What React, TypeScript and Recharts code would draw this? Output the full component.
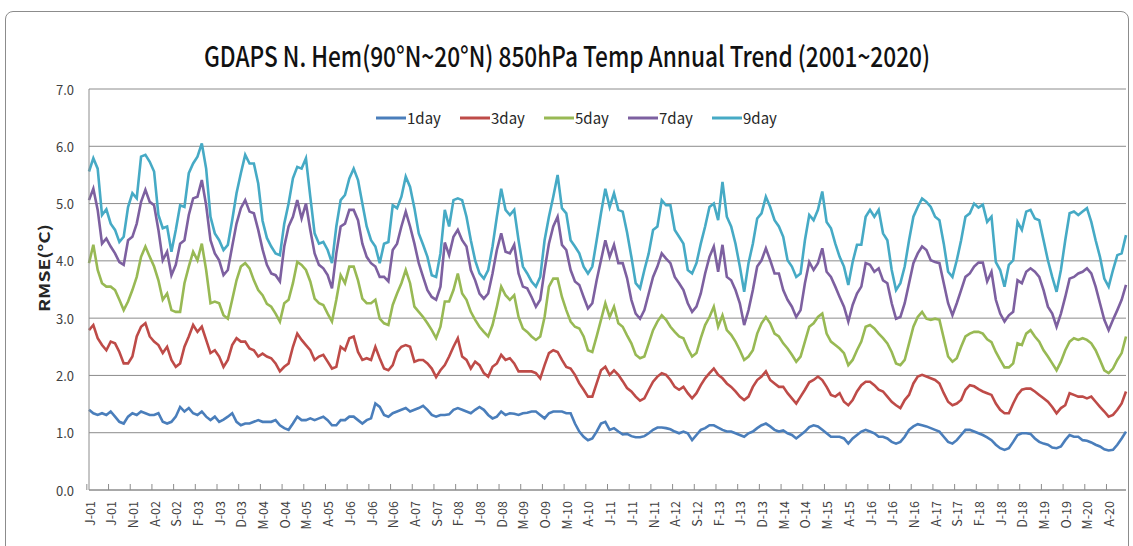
import { LineChart, Line, XAxis, YAxis, CartesianGrid, Legend } from 'recharts';

const MONTH_INITIALS = ['J', 'F', 'M', 'A', 'M', 'J', 'J', 'A', 'S', 'O', 'N', 'D'];
const YEARS = ['01', '02', '03', '04', '05', '06', '07', '08', '09', '10', '11', '12', '13', '14', '15', '16', '17', '18', '19', '20'];

const SERIES_NAMES = ['1day', '3day', '5day', '7day', '9day'];
const SERIES_COLORS = ['#4a7ebb', '#be4b48', '#98b954', '#7d60a0', '#46aac5'];

// monthly RMSE, Jan 2001 .. Dec 2020, one row per year
const RMSE_1DAY = [
  1.40, 1.34, 1.31, 1.34, 1.31, 1.37, 1.28, 1.19, 1.16, 1.28, 1.34, 1.31,
  1.37, 1.34, 1.31, 1.31, 1.34, 1.19, 1.16, 1.19, 1.28, 1.45, 1.37, 1.43,
  1.34, 1.31, 1.37, 1.28, 1.22, 1.28, 1.19, 1.23, 1.28, 1.34, 1.19, 1.13,
  1.16, 1.16, 1.19, 1.22, 1.19, 1.19, 1.19, 1.22, 1.13, 1.08, 1.05, 1.16,
  1.28, 1.22, 1.22, 1.25, 1.22, 1.25, 1.28, 1.22, 1.13, 1.13, 1.22, 1.22,
  1.28, 1.28, 1.22, 1.16, 1.22, 1.25, 1.51, 1.45, 1.31, 1.28, 1.34, 1.37,
  1.40, 1.43, 1.37, 1.40, 1.43, 1.47, 1.40, 1.31, 1.28, 1.31, 1.31, 1.32,
  1.40, 1.43, 1.40, 1.37, 1.34, 1.40, 1.45, 1.40, 1.31, 1.25, 1.28, 1.37,
  1.31, 1.34, 1.33, 1.31, 1.34, 1.35, 1.37, 1.37, 1.31, 1.25, 1.34, 1.37,
  1.37, 1.37, 1.34, 1.34, 1.16, 1.02, 0.93, 0.87, 0.90, 1.02, 1.16, 1.19,
  1.05, 1.08, 1.02, 0.97, 0.98, 0.94, 0.92, 0.92, 0.94, 0.99, 1.05, 1.09,
  1.09, 1.08, 1.06, 1.02, 0.99, 1.02, 0.99, 0.87, 0.96, 1.05, 1.08, 1.13,
  1.13, 1.09, 1.05, 1.02, 1.02, 0.99, 0.96, 0.93, 0.99, 1.02, 1.08, 1.13,
  1.16, 1.11, 1.05, 1.02, 1.04, 0.99, 0.96, 0.90, 0.96, 1.02, 1.10, 1.13,
  1.11, 1.05, 0.99, 0.93, 0.93, 0.93, 0.90, 0.81, 0.90, 0.96, 1.02, 1.05,
  1.02, 0.99, 0.93, 0.93, 0.90, 0.84, 0.81, 0.84, 0.93, 1.05, 1.11, 1.15,
  1.13, 1.11, 1.08, 1.05, 1.02, 0.93, 0.84, 0.81, 0.87, 0.96, 1.05, 1.05,
  1.02, 0.99, 0.96, 0.92, 0.87, 0.79, 0.73, 0.70, 0.73, 0.84, 0.96, 0.99,
  0.99, 0.98, 0.90, 0.84, 0.81, 0.79, 0.74, 0.73, 0.76, 0.87, 0.96, 0.93,
  0.93, 0.87, 0.86, 0.83, 0.79, 0.76, 0.71, 0.69, 0.70, 0.79, 0.90, 1.02,
];

const RMSE_3DAY = [
  2.79, 2.88, 2.65, 2.53, 2.44, 2.59, 2.56, 2.41, 2.21, 2.21, 2.33, 2.68,
  2.85, 2.91, 2.68, 2.59, 2.53, 2.39, 2.50, 2.27, 2.15, 2.21, 2.50, 2.68,
  2.88, 2.76, 2.85, 2.62, 2.39, 2.44, 2.33, 2.15, 2.27, 2.53, 2.65, 2.59,
  2.59, 2.47, 2.44, 2.33, 2.38, 2.33, 2.30, 2.21, 2.07, 2.15, 2.21, 2.50,
  2.73, 2.62, 2.53, 2.44, 2.27, 2.33, 2.36, 2.24, 2.12, 2.15, 2.50, 2.44,
  2.65, 2.68, 2.41, 2.27, 2.30, 2.27, 2.50, 2.30, 2.12, 2.09, 2.18, 2.41,
  2.50, 2.53, 2.50, 2.24, 2.27, 2.27, 2.21, 2.12, 1.97, 2.09, 2.18, 2.33,
  2.50, 2.65, 2.33, 2.27, 2.12, 2.24, 2.18, 2.04, 1.98, 2.15, 2.21, 2.36,
  2.27, 2.30, 2.21, 2.07, 2.07, 2.07, 2.07, 2.04, 1.95, 2.18, 2.39, 2.44,
  2.41, 2.27, 2.15, 2.12, 2.01, 1.86, 1.75, 1.63, 1.63, 1.86, 2.09, 2.15,
  2.01, 2.09, 2.01, 1.90, 1.78, 1.72, 1.63, 1.56, 1.60, 1.75, 1.89, 1.98,
  2.04, 2.01, 1.92, 1.80, 1.75, 1.80, 1.69, 1.60, 1.69, 1.83, 1.95, 2.04,
  2.12, 2.01, 1.95, 1.86, 1.80, 1.72, 1.63, 1.57, 1.63, 1.80, 1.92, 1.98,
  2.07, 1.92, 1.86, 1.80, 1.80, 1.69, 1.60, 1.51, 1.63, 1.75, 1.88, 1.92,
  1.98, 1.92, 1.80, 1.66, 1.63, 1.69, 1.54, 1.48, 1.57, 1.72, 1.83, 1.89,
  1.89, 1.83, 1.75, 1.72, 1.63, 1.54, 1.48, 1.43, 1.57, 1.66, 1.86, 1.98,
  2.01, 1.98, 1.95, 1.92, 1.86, 1.69, 1.54, 1.48, 1.51, 1.57, 1.75, 1.83,
  1.81, 1.76, 1.72, 1.69, 1.66, 1.51, 1.40, 1.34, 1.34, 1.51, 1.66, 1.75,
  1.77, 1.77, 1.72, 1.66, 1.60, 1.54, 1.45, 1.34, 1.43, 1.48, 1.69, 1.66,
  1.63, 1.63, 1.60, 1.63, 1.54, 1.45, 1.37, 1.28, 1.31, 1.40, 1.51, 1.72,
];

const RMSE_5DAY = [
  3.96, 4.28, 3.84, 3.61, 3.55, 3.55, 3.49, 3.32, 3.14, 3.29, 3.49, 3.72,
  4.07, 4.25, 4.07, 3.90, 3.66, 3.32, 3.43, 3.14, 3.11, 3.11, 3.61, 3.90,
  4.16, 4.01, 4.30, 3.84, 3.26, 3.29, 3.26, 3.05, 2.99, 3.32, 3.66, 3.90,
  3.96, 3.87, 3.66, 3.49, 3.40, 3.25, 3.20, 3.08, 2.94, 3.26, 3.32, 3.61,
  3.98, 3.93, 3.84, 3.64, 3.34, 3.26, 3.23, 3.08, 2.94, 3.32, 3.75, 3.61,
  3.90, 3.90, 3.66, 3.34, 3.26, 3.26, 3.32, 2.99, 2.91, 2.88, 3.23, 3.43,
  3.61, 3.84, 3.61, 3.20, 3.11, 3.02, 2.91, 2.79, 2.65, 2.85, 3.29, 3.29,
  3.49, 3.78, 3.43, 3.32, 3.11, 2.97, 2.85, 2.76, 2.68, 2.88, 3.20, 3.55,
  3.40, 3.32, 3.40, 3.02, 2.82, 2.76, 2.68, 2.62, 2.68, 3.02, 3.55, 3.69,
  3.69, 3.37, 3.14, 2.94, 2.85, 2.82, 2.68, 2.44, 2.41, 2.68, 2.97, 3.26,
  3.02, 3.20, 2.91, 2.85, 2.70, 2.56, 2.36, 2.30, 2.33, 2.56, 2.79, 2.94,
  3.05, 2.97, 2.85, 2.76, 2.68, 2.65, 2.47, 2.33, 2.39, 2.65, 2.88, 3.02,
  3.20, 2.85, 3.05, 2.79, 2.71, 2.59, 2.44, 2.27, 2.33, 2.44, 2.73, 2.91,
  3.02, 2.91, 2.73, 2.68, 2.56, 2.47, 2.36, 2.24, 2.33, 2.59, 2.85, 2.91,
  3.02, 3.08, 2.73, 2.59, 2.53, 2.47, 2.39, 2.18, 2.27, 2.44, 2.59, 2.85,
  2.88, 2.82, 2.73, 2.65, 2.56, 2.41, 2.21, 2.18, 2.27, 2.56, 2.85, 3.02,
  3.11, 2.99, 2.97, 2.99, 2.97, 2.65, 2.33, 2.24, 2.30, 2.50, 2.68, 2.73,
  2.76, 2.76, 2.73, 2.63, 2.58, 2.41, 2.27, 2.14, 2.14, 2.21, 2.56, 2.53,
  2.73, 2.79, 2.68, 2.59, 2.44, 2.33, 2.21, 2.09, 2.24, 2.44, 2.59, 2.65,
  2.62, 2.65, 2.62, 2.56, 2.44, 2.27, 2.09, 2.04, 2.12, 2.27, 2.39, 2.68,
];

const RMSE_7DAY = [
  5.06, 5.26, 4.89, 4.30, 4.39, 4.25, 4.13, 3.98, 3.93, 4.36, 4.42, 4.65,
  5.03, 5.24, 5.03, 4.97, 4.54, 4.01, 4.16, 3.75, 3.93, 4.30, 4.36, 4.80,
  5.09, 5.12, 5.41, 4.97, 4.36, 4.13, 4.01, 3.75, 3.84, 4.25, 4.65, 4.92,
  5.06, 4.86, 4.83, 4.54, 4.20, 3.93, 3.78, 3.75, 3.64, 4.25, 4.60, 4.77,
  5.06, 4.74, 5.00, 4.54, 4.13, 3.93, 3.87, 3.75, 3.52, 4.13, 4.60, 4.65,
  4.89, 4.89, 4.71, 4.30, 4.07, 3.96, 3.90, 3.72, 3.72, 3.64, 4.19, 4.30,
  4.60, 4.86, 4.60, 4.30, 3.96, 3.72, 3.49, 3.37, 3.32, 3.55, 4.32, 4.10,
  4.42, 4.54, 4.36, 4.25, 3.84, 3.66, 3.43, 3.34, 3.43, 3.78, 4.19, 4.48,
  4.16, 4.13, 4.28, 3.78, 3.55, 3.52, 3.37, 3.20, 3.32, 3.84, 4.30, 4.60,
  4.77, 4.28, 4.19, 3.84, 3.64, 3.58, 3.37, 3.17, 3.26, 3.66, 4.01, 4.36,
  4.07, 4.28, 3.96, 3.96, 3.70, 3.32, 3.08, 2.99, 3.14, 3.43, 3.72, 3.90,
  4.13, 4.04, 3.96, 3.72, 3.61, 3.49, 3.26, 3.11, 3.20, 3.43, 3.78, 4.07,
  4.25, 3.81, 4.28, 3.72, 3.66, 3.49, 3.26, 2.88, 3.14, 3.49, 3.90, 4.01,
  4.22, 4.01, 3.78, 3.78, 3.49, 3.32, 3.20, 3.02, 3.14, 3.61, 3.98, 3.84,
  3.96, 4.22, 3.81, 3.72, 3.55, 3.37, 3.20, 2.94, 3.23, 3.43, 3.55, 3.96,
  3.93, 3.81, 3.87, 3.66, 3.61, 3.26, 2.99, 3.02, 3.26, 3.61, 3.96, 4.13,
  4.25, 4.19, 4.01, 3.98, 3.96, 3.61, 3.26, 3.05, 3.26, 3.49, 3.72, 3.78,
  3.90, 3.97, 3.97, 3.64, 3.81, 3.32, 3.08, 2.94, 3.05, 3.11, 3.66, 3.61,
  3.81, 3.87, 3.81, 3.72, 3.49, 3.20, 3.08, 2.85, 3.08, 3.37, 3.69, 3.72,
  3.78, 3.81, 3.87, 3.78, 3.55, 3.26, 2.97, 2.79, 2.97, 3.14, 3.32, 3.58,
];

const RMSE_9DAY = [
  5.56, 5.79, 5.61, 4.80, 4.90, 4.65, 4.54, 4.33, 4.42, 4.94, 5.18, 5.09,
  5.82, 5.85, 5.73, 5.56, 4.80, 4.57, 4.60, 4.16, 4.54, 4.97, 4.94, 5.53,
  5.70, 5.82, 6.05, 5.61, 4.77, 4.48, 4.36, 4.19, 4.28, 4.71, 5.18, 5.53,
  5.85, 5.70, 5.70, 5.35, 4.70, 4.40, 4.25, 4.13, 4.10, 4.65, 5.00, 5.44,
  5.64, 5.61, 5.79, 5.12, 4.48, 4.30, 4.33, 4.19, 3.96, 4.60, 5.06, 5.15,
  5.44, 5.61, 5.41, 5.00, 4.60, 4.36, 4.25, 3.96, 4.30, 4.33, 4.97, 4.92,
  5.12, 5.47, 5.29, 4.92, 4.48, 4.28, 4.07, 3.75, 3.72, 4.13, 4.89, 4.60,
  5.06, 5.09, 5.06, 4.77, 4.36, 4.01, 3.78, 3.69, 3.84, 4.25, 4.77, 5.26,
  4.89, 4.80, 4.89, 4.36, 3.90, 3.78, 3.64, 3.55, 3.72, 4.36, 4.77, 5.12,
  5.50, 4.92, 4.83, 4.36, 4.25, 4.13, 3.90, 3.78, 3.90, 4.36, 4.83, 5.26,
  4.94, 5.18, 4.89, 4.86, 4.50, 4.07, 3.61, 3.52, 3.84, 4.13, 4.54, 4.60,
  5.06, 4.97, 4.97, 4.54, 4.42, 4.30, 3.84, 3.78, 3.96, 4.30, 4.60, 4.94,
  5.00, 4.71, 5.38, 4.77, 4.60, 4.30, 3.90, 3.46, 3.96, 4.30, 4.74, 4.83,
  5.12, 4.94, 4.71, 4.60, 4.42, 4.01, 3.90, 3.72, 3.78, 4.36, 4.80, 4.71,
  4.89, 5.21, 4.68, 4.57, 4.30, 4.07, 3.90, 3.58, 3.98, 4.28, 4.28, 4.77,
  4.89, 4.77, 4.89, 4.48, 4.36, 3.84, 3.49, 3.61, 3.90, 4.36, 4.77, 4.94,
  5.09, 5.03, 4.94, 4.77, 4.71, 4.30, 3.81, 3.72, 4.01, 4.36, 4.77, 4.83,
  5.00, 4.93, 4.98, 4.68, 4.77, 3.98, 3.84, 3.55, 3.93, 4.01, 4.68, 4.54,
  4.86, 4.89, 4.74, 4.71, 4.36, 4.01, 3.72, 3.46, 3.84, 4.36, 4.83, 4.86,
  4.80, 4.86, 4.92, 4.68, 4.36, 4.07, 3.69, 3.55, 3.84, 4.10, 4.13, 4.45,
];

const Y_TICKS = [0, 1, 2, 3, 4, 5, 6, 7];

const TITLE = 'GDAPS N. Hem(90°N~20°N) 850hPa Temp Annual Trend (2001~2020)';
const Y_TITLE = 'RMSE(°C)';

const FONT = "'Noto Sans CJK KR', 'Noto Sans', sans-serif";
const WIDTH = 1133;
const HEIGHT = 546;
const PLOT_LEFT = 89;
const PLOT_RIGHT = 1126;
const PLOT_BOTTOM = 490;
const AXIS_GRAY = '#8c8c8c';

const CATEGORIES = YEARS.flatMap((yy) => MONTH_INITIALS.map((m) => `${m}-${yy}`));
const SERIES_VALUES = [RMSE_1DAY, RMSE_3DAY, RMSE_5DAY, RMSE_7DAY, RMSE_9DAY];
const BAND = (PLOT_RIGHT - PLOT_LEFT) / CATEGORIES.length;

const data = CATEGORIES.map((label, i) => {
  const row: Record<string, number | string> = { idx: i, label };
  SERIES_NAMES.forEach((name, s) => {
    row[name] = SERIES_VALUES[s][i];
  });
  return row;
});

function XTick({ x, payload }: any) {
  const label = CATEGORIES[payload.value];
  const tx = x - BAND / 2;
  return (
    <g>
      <line x1={tx} x2={tx} y1={PLOT_BOTTOM - 6} y2={PLOT_BOTTOM} stroke={AXIS_GRAY} />
      <text
        x={x}
        y={501}
        transform={`rotate(-90, ${x}, 501)`}
        textAnchor="end"
        dominantBaseline="central"
        fontSize={12.5}
        fill="#404040"
        fontFamily={FONT}
      >
        {label}
      </text>
    </g>
  );
}

function YTick({ y, payload }: any) {
  return (
    <text x={74} y={y} textAnchor="end" dominantBaseline="central" fontSize={13} fill="#404040" fontFamily={FONT}>
      {Number(payload.value).toFixed(1)}
    </text>
  );
}

function LegendRow() {
  return (
    <div style={{ display: 'flex', fontFamily: FONT, fontSize: 15, color: '#262626' }}>
      {SERIES_NAMES.map((name, i) => (
        <div key={name} style={{ display: 'flex', alignItems: 'center', width: 84 }}>
          <svg width={31} height={10}>
            <line x1={0} x2={30} y1={5} y2={5} stroke={SERIES_COLORS[i]} strokeWidth={3} />
          </svg>
          <span style={{ lineHeight: '20px' }}>{name}</span>
        </div>
      ))}
    </div>
  );
}

export default function App() {
  return (
    <div style={{ position: 'relative', width: WIDTH, height: HEIGHT, overflow: 'hidden', background: '#fff' }}>
      <style>{'body { margin: 0; }'}</style>
      <div
        style={{
          position: 'absolute',
          left: 5,
          top: 11,
          width: 1122,
          height: 580,
          border: '1px solid #8c8c8c',
          borderRadius: 8,
        }}
      />
      <svg width={WIDTH} height={HEIGHT} style={{ position: 'absolute', left: 0, top: 0 }}>
        <text
          x={567}
          y={67}
          textAnchor="middle"
          fontSize={28}
          fontWeight={500}
          fill="#111"
          fontFamily={FONT}
          textLength={726}
          lengthAdjust="spacingAndGlyphs"
        >
          {TITLE}
        </text>
        <text
          x={43}
          y={268}
          transform="rotate(-90, 43, 268)"
          textAnchor="middle"
          dominantBaseline="central"
          fontSize={15}
          fontWeight="bold"
          fill="#262626"
          fontFamily={FONT}
          textLength={88}
          lengthAdjust="spacingAndGlyphs"
        >
          {Y_TITLE}
        </text>
      </svg>
      <LineChart
        width={WIDTH}
        height={HEIGHT}
        data={data}
        margin={{ top: 89, right: WIDTH - PLOT_RIGHT, bottom: HEIGHT - PLOT_BOTTOM - 50, left: PLOT_LEFT - 60 }}
        style={{ position: 'absolute', left: 0, top: 0 }}
      >
        <CartesianGrid vertical={false} stroke={AXIS_GRAY} />
        <XAxis
          dataKey="idx"
          type="category"
          interval={4}
          height={50}
          tick={XTick}
          tickLine={false}
          axisLine={{ stroke: AXIS_GRAY }}
        />
        <YAxis
          width={60}
          domain={[0, 7]}
          ticks={Y_TICKS}
          tick={YTick}
          tickLine={false}
          axisLine={{ stroke: AXIS_GRAY }}
        />
        <Legend
          layout="horizontal"
          verticalAlign="middle"
          align="center"
          wrapperStyle={{ top: 108, left: 376, width: 430 }}
          content={() => <LegendRow />}
        />
        {SERIES_NAMES.map((name, i) => (
          <Line
            key={name}
            type="linear"
            dataKey={name}
            stroke={SERIES_COLORS[i]}
            strokeWidth={2.6}
            dot={false}
            isAnimationActive={false}
          />
        ))}
      </LineChart>
    </div>
  );
}
